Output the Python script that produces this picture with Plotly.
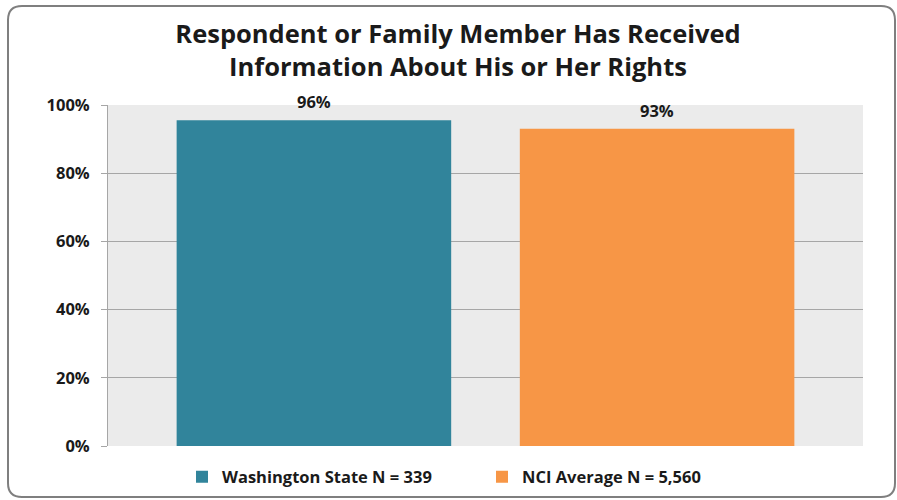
import plotly.graph_objects as go

title_lines = ["Respondent or Family Member Has Received", "Information About His or Her Rights"]
series_names = ["Washington State N = 339", "NCI Average N = 5,560"]
values = [95.5, 93]
value_labels = ["96%", "93%"]
bar_colors = ["#31849b", "#f79646"]
y_ticks = [0, 20, 40, 60, 80, 100]
y_tick_labels = ["0%", "20%", "40%", "60%", "80%", "100%"]

FONT = "Open Sans"
W, H = 897, 500
L, R, T, B = 108, 34, 105, 54
pw, ph = W - L - R, H - T - B

fig = go.Figure()
for name, v, c in zip(series_names, values, bar_colors):
    fig.add_trace(go.Bar(x=[name], y=[v], name=name, marker=dict(color=c, line=dict(width=0)),
                         width=0.8))

for name, v, lab in zip(series_names, values, value_labels):
    fig.add_annotation(x=name, y=v, text=lab, showarrow=False, yanchor="bottom", yshift=5,
                       font=dict(family=FONT, size=16.5, color="#1a1a1a", weight="bold"))


# rounded outer frame, in paper coords
def px_x(x):
    return (x - L) / pw


def px_y(y):
    return (H - B - y) / ph


x0, x1, y0, y1, r = 8, 895, 6, 497, 14
path = (f"M {px_x(x0 + r)},{px_y(y0)} L {px_x(x1 - r)},{px_y(y0)} "
        f"Q {px_x(x1)},{px_y(y0)} {px_x(x1)},{px_y(y0 + r)} "
        f"L {px_x(x1)},{px_y(y1 - r)} Q {px_x(x1)},{px_y(y1)} {px_x(x1 - r)},{px_y(y1)} "
        f"L {px_x(x0 + r)},{px_y(y1)} Q {px_x(x0)},{px_y(y1)} {px_x(x0)},{px_y(y1 - r)} "
        f"L {px_x(x0)},{px_y(y0 + r)} Q {px_x(x0)},{px_y(y0)} {px_x(x0 + r)},{px_y(y0)} Z")
fig.add_shape(type="path", path=path, xref="paper", yref="paper",
              line=dict(color="#7f7f7f", width=2), layer="below")

fig.update_layout(
    width=W, height=H,
    margin=dict(l=L, r=R, t=T, b=B, autoexpand=False),
    paper_bgcolor="white",
    plot_bgcolor="#ebebeb",
    title=dict(text="<br>".join(title_lines), x=458 / W, xanchor="center", y=0.915, yanchor="middle",
               font=dict(family=FONT, size=25.5, color="#1a1a1a", weight="bold")),
    showlegend=True,
    legend=dict(orientation="h", x=px_x(182), xanchor="left", y=-0.091, yanchor="middle",
                font=dict(family=FONT, size=16.5, color="#1a1a1a", weight="bold"),
                entrywidth=255, itemsizing="constant"),
    xaxis=dict(showticklabels=False, showgrid=False, zeroline=False, showline=False,
               range=[-0.6, 1.6]),
    yaxis=dict(range=[0, 100], tickvals=y_ticks, ticktext=y_tick_labels,
               showgrid=True, gridcolor="#a6a6a6", gridwidth=1,
               showline=True, linecolor="#a6a6a6", linewidth=1,
               ticks="outside", ticklen=6, tickcolor="#a6a6a6", zeroline=False,
               ticklabelstandoff=8,
               tickfont=dict(family=FONT, size=16.5, color="#1a1a1a", weight="bold")),
)

fig.write_html("out.html", config={"displayModeBar": False},
               post_script="document.body.style.margin='0';")
